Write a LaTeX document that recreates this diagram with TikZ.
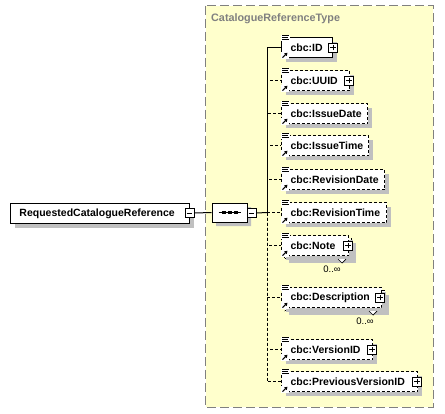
\documentclass[tikz,border=0pt]{standalone}
\usepackage{fontspec}
\setmainfont{Liberation Sans}
\usetikzlibrary{shadows,shapes.misc,arrows.meta}
\definecolor{bgyellow}{RGB}{255,255,204}
\definecolor{shadowgray}{RGB}{192,192,192}
\definecolor{framegray}{RGB}{128,128,128}
\newcommand\elemfont{\bfseries\fontsize{10.5}{12}\selectfont}
\newcommand\multfont{\fontsize{9.5}{11}\selectfont}
\begin{document}
\begin{tikzpicture}[x=1pt,y=-1pt,
  shadowed/.style={general shadow={fill=shadowgray, shadow xshift=4pt, shadow yshift=-4pt}},
  elem/.style={draw=black, fill=white, line width=1pt, inner sep=0pt, minimum height=20pt,
    anchor=north west, align=left, font=\elemfont, shadowed, text width=#1},
  optelem/.style={elem=#1, dash pattern=on 3pt off 2pt},
  conn/.style={draw=black, line width=1pt},
  optconn/.style={conn, dash pattern=on 3pt off 2pt},
  pbox/.style={draw=black, fill=white, line width=0.8pt, minimum size=9pt, inner sep=0pt,
    path picture={\draw[line width=0.8pt] ([xshift=-2.8pt]path picture bounding box.center) -- ([xshift=2.8pt]path picture bounding box.center)
      ([yshift=-2.8pt]path picture bounding box.center) -- ([yshift=2.8pt]path picture bounding box.center);}},
  mbox/.style={draw=black, fill=white, line width=0.8pt, minimum size=9pt, inner sep=0pt,
    path picture={\draw[line width=0.8pt] ([xshift=-2.8pt]path picture bounding box.center) -- ([xshift=2.8pt]path picture bounding box.center);}},
  seqshape/.style={draw=black, fill=white, line width=1pt, chamfered rectangle, chamfered rectangle xsep=6pt,
    chamfered rectangle ysep=6pt, minimum width=35pt, minimum height=19pt, inner sep=0pt, shadowed},
  mult/.style={font=\multfont, inner sep=0pt},
  titlestyle/.style={font=\bfseries\fontsize{10.8}{12}\selectfont, text=framegray, inner sep=0pt},
  topicon/.pic={\fill[white] (0,-2.5) rectangle (8.5,3.5);
    \draw[line width=0.7pt] (1,-1.5)--(8,-1.5) (1,0.5)--(6.5,0.5) (1,2.5)--(7.5,2.5);},
  boticon/.pic={\fill[white] (0,-6.5) rectangle (7.5,1);
    \draw[line width=1.1pt, -{Triangle[length=3pt,width=3.5pt]}] (1.5,-0.3) -- (6.5,-5.3);},
  vtab/.pic={\draw[fill=white, line width=0.7pt] (-4,0) -- (0,4) -- (4,0);}
]
\useasboundingbox (0,0) rectangle (445,413);
% type frame
\draw[fill=bgyellow, draw=framegray, line width=1pt, dash pattern=on 9pt off 4pt] (205.5,5.5) rectangle (433,407);
\node[titlestyle, anchor=base west] (title) at (211,21) {CatalogueReferenceType};

% root element and sequence
\node[elem=179pt] (root) at (10,203) {\hspace*{9pt}RequestedCatalogueReference};
\node[mbox] (rootminus) at (189.5,213) {};
\node[seqshape] (seq) at (229.5,212.5) {};
\draw[line width=0.8pt] (218.5,212.5) -- (240.5,212.5);
\fill (221.5,211) rectangle (225.5,214);
\fill (227.5,211) rectangle (231.5,214);
\fill (233.5,211) rectangle (237.5,214);
\node[mbox] (seqminus) at (251.5,213) {};
\coordinate (spine) at (267,212.5);

% children
\node[elem=51pt] (id) at (281,37) {\hspace*{9pt}cbc:ID};
\node[optelem=68pt] (uuid) at (281,70) {\hspace*{9pt}cbc:UUID};
\node[optelem=86pt] (issuedate) at (281,103) {\hspace*{9pt}cbc:IssueDate};
\node[optelem=87pt] (issuetime) at (281,135) {\hspace*{9pt}cbc:IssueTime};
\node[optelem=103pt] (revdate) at (281,169) {\hspace*{9pt}cbc:RevisionDate};
\node[optelem=105pt] (revtime) at (281,202) {\hspace*{9pt}cbc:RevisionTime};
\node[optelem=67pt] (noteback) at (284,238) {};
\node[optelem=67pt] (note) at (281,235) {\hspace*{9pt}cbc:Note};
\node[optelem=100pt] (descback) at (284,290) {};
\node[optelem=100pt] (desc) at (281,287) {\hspace*{9pt}cbc:Description};
\node[optelem=91pt] (verid) at (281,339) {\hspace*{9pt}cbc:VersionID};
\node[optelem=136pt] (prevverid) at (281,371) {\hspace*{9pt}cbc:PreviousVersionID};

% connectors
\draw[conn] (rootminus.east) -- (seq.west);
\draw[conn] (seqminus.east) -- (spine);
\draw[conn] (spine) |- (id.west);
\foreach \n in {uuid,issuedate,issuetime,revdate,revtime,note,desc,verid,prevverid}
  \draw[optconn] (spine) |- (\n.west);

% expand boxes
\node[pbox] (idplus) at (id.east) {};
\node[pbox] (uuidplus) at ([xshift=-1pt]uuid.east) {};
\node[pbox] (noteplus) at ([xshift=-1pt]note.east) {};
\node[pbox] (descplus) at ([xshift=-2pt]desc.east) {};
\node[pbox] (veridplus) at ([xshift=-1pt]verid.east) {};
\node[pbox] (prevveridplus) at ([xshift=-1pt]prevverid.east) {};

% icons
\foreach \n in {id,uuid,issuedate,issuetime,revdate,revtime,note,desc,verid,prevverid}{
  \pic at (\n.north west) {topicon};
  \pic at (\n.south west) {boticon};
}

% multiplicities
\pic at ([xshift=-10pt]noteback.south east) {vtab};
\node[mult] (notemult) at (332,269.5) {0..∞};
\pic at ([xshift=-12pt]descback.south east) {vtab};
\node[mult] (descmult) at (365,321.5) {0..∞};
\end{tikzpicture}
\end{document}
